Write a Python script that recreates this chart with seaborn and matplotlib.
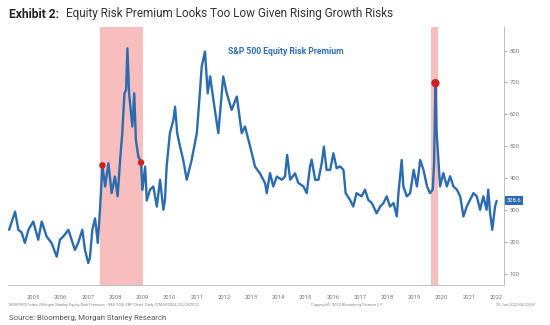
import matplotlib
matplotlib.use("Agg")
import matplotlib.pyplot as plt
import pandas as pd
import seaborn as sns

# S&P 500 equity risk premium (bp), sampled dates as decimal years
dates = [
    2004.60, 2004.82, 2004.94, 2005.06, 2005.18, 2005.31, 2005.49, 2005.67, 2005.80, 2005.98,
    2006.16, 2006.35, 2006.47, 2006.59, 2006.78, 2006.90, 2007.02, 2007.14, 2007.29, 2007.39,
    2007.51, 2007.57, 2007.66, 2007.76, 2007.86, 2007.94, 2008.03, 2008.13, 2008.25, 2008.37,
    2008.49, 2008.59, 2008.68, 2008.76, 2008.84, 2008.90, 2008.95, 2009.01, 2009.07, 2009.13,
    2009.20, 2009.26, 2009.35, 2009.45, 2009.50, 2009.60, 2009.66, 2009.78, 2009.90, 2010.03,
    2010.15, 2010.27, 2010.33, 2010.39, 2010.51, 2010.64, 2010.70, 2010.78, 2010.88, 2011.00,
    2011.13, 2011.31, 2011.50, 2011.62, 2011.68, 2011.80, 2011.90, 2011.99, 2012.11, 2012.29,
    2012.47, 2012.60, 2012.78, 2012.97, 2013.15, 2013.27, 2013.46, 2013.64, 2013.82, 2014.01,
    2014.07, 2014.19, 2014.31, 2014.44, 2014.62, 2014.74, 2014.82, 2014.93, 2015.11, 2015.23,
    2015.42, 2015.54, 2015.66, 2015.72, 2015.85, 2015.97, 2016.09, 2016.17, 2016.27, 2016.40,
    2016.52, 2016.64, 2016.76, 2016.89, 2016.97, 2017.13, 2017.25, 2017.37, 2017.56, 2017.68,
    2017.80, 2017.93, 2018.11, 2018.24, 2018.36, 2018.48, 2018.60, 2018.73, 2018.85, 2018.91,
    2019.03, 2019.09, 2019.22, 2019.34, 2019.47, 2019.59, 2019.71, 2019.83, 2019.96, 2020.07,
    2020.17, 2020.22, 2020.27, 2020.31, 2020.37, 2020.44, 2020.56, 2020.69, 2020.81, 2020.93,
    2021.06, 2021.18, 2021.30, 2021.42, 2021.54, 2021.67, 2021.79, 2021.91, 2022.03, 2022.15,
    2022.21, 2022.28, 2022.36, 2022.46, 2022.52,
]
erp = [
    238, 295, 238, 230, 197, 238, 264, 207, 264, 217,
    197, 154, 207, 217, 238, 207, 175, 197, 238, 175,
    134, 150, 238, 274, 197, 300, 440, 374, 447, 353,
    405, 343, 457, 541, 666, 676, 807, 666, 614, 562,
    666, 520, 468, 449, 363, 436, 330, 364, 374, 311,
    395, 301, 332, 436, 541, 583, 624, 541, 500, 457,
    395, 457, 541, 677, 750, 797, 666, 719, 645, 541,
    719, 666, 614, 656, 541, 562, 499, 436, 415, 384,
    353, 416, 374, 405, 395, 405, 473, 395, 415, 385,
    374, 353, 436, 458, 395, 395, 447, 499, 426, 426,
    478, 431, 437, 426, 353, 332, 311, 353, 343, 364,
    332, 322, 290, 311, 322, 343, 311, 322, 280, 353,
    457, 374, 343, 353, 426, 374, 457, 426, 374, 353,
    364, 447, 698, 551, 468, 374, 416, 374, 406, 374,
    364, 343, 280, 311, 332, 353, 343, 301, 343, 301,
    364, 290, 238, 311, 328.6,
]

# Recession periods (shaded) and highlighted readings
recession_start = [2007.94, 2020.11]
recession_end = [2009.53, 2020.38]
marker_dates = [2008.03, 2009.45, 2020.27]
marker_values = [440, 449, 698]
marker_sizes = [22, 22, 36]
last_value = 328.6

years = list(range(2005, 2023))
y_ticks = [100, 200, 300, 400, 500, 600, 700, 800]

sns.set_theme(style="white")
plt.rcParams["font.family"] = ["Roboto", "DejaVu Sans"]

line_color = "#2b6cb0"

fig = plt.figure(figsize=(5.5, 3.25), dpi=100)
ax = fig.add_axes([8 / 550, 1 - 285 / 325, 496 / 550, 258 / 325])

for s, e in zip(recession_start, recession_end):
    ax.axvspan(s, e, color="#f7b3b3", alpha=0.85, lw=0, zorder=0)

df = pd.DataFrame({"date": dates, "erp": erp})
sns.lineplot(data=df, x="date", y="erp", color=line_color, lw=1.7, ax=ax, zorder=2)
ax.scatter(marker_dates, marker_values, s=marker_sizes, color="#cc2222", zorder=3, lw=0)

ax.set_ylim(65, 874)
ax.set_xlabel("")
ax.set_ylabel("")

# x axis: year separators with labels centred in each year
ax.set_xticks(years + [2023])
ax.set_xticklabels([])
ax.set_xticks([y + 0.5 for y in years], minor=True)
ax.set_xticklabels([str(y) for y in years], minor=True)
ax.tick_params(axis="x", which="major", length=11, width=0.6, color="#c8c8c8", direction="out")
ax.tick_params(axis="x", which="minor", length=0, labelsize=4.2, labelcolor="#777777", pad=7)
ax.set_xlim(2004.56, 2022.79)

# y axis on the right
ax.yaxis.tick_right()
ax.set_yticks(y_ticks)
ax.set_yticklabels([str(v) for v in y_ticks])
ax.tick_params(axis="y", length=2, width=0.6, color="#999999", labelsize=4.2,
               labelcolor="#777777", pad=2, direction="out")

for side in ["top", "left"]:
    ax.spines[side].set_visible(False)
for side in ["bottom", "right"]:
    ax.spines[side].set_color("#bdbdbd")
    ax.spines[side].set_linewidth(0.7)
ax.grid(False)

# current value tag on the axis
ax.annotate(f"{last_value:.1f}", xy=(1.0, last_value), xycoords=("axes fraction", "data"),
            xytext=(2, 0), textcoords="offset points", fontsize=4.2, color="white",
            va="center", ha="left",
            bbox=dict(boxstyle="square,pad=0.35", fc=line_color, ec="none"))

fig.text(228 / 550, 1 - 52 / 325, "S&P 500 Equity Risk Premium", fontsize=6.2,
         fontweight="bold", color="#2f6db5", va="center", ha="left")

# heading
fig.text(9 / 550, 1 - 14 / 325, "Exhibit 2:", fontsize=8.7, fontweight="bold",
         color="#222222", va="center", ha="left")
fig.text(66 / 550, 1 - 14 / 325, "Equity Risk Premium Looks Too Low Given Rising Growth Risks",
         fontsize=8.5, color="#333333", va="center", ha="left")

# footer lines
fig.text(9 / 550, 1 - 305 / 325,
         "MSRPSPX Index (Morgan Stanley Equity Risk Premium - S&P 500) ERP Chart  Daily 01MAR2004-20JUN2022",
         fontsize=2.9, color="#888888", va="center", ha="left")
fig.text(311 / 550, 1 - 305 / 325, "Copyright\u00a9 2022 Bloomberg Finance L.P.",
         fontsize=2.9, color="#888888", va="center", ha="left")
fig.text(535 / 550, 1 - 305 / 325, "20-Jun-2022 08:22:08",
         fontsize=2.9, color="#888888", va="center", ha="right")
fig.text(9 / 550, 1 - 318 / 325, "Source: Bloomberg, Morgan Stanley Research",
         fontsize=5.6, color="#555555", va="center", ha="left")

fig.savefig("out.png", dpi=100)
